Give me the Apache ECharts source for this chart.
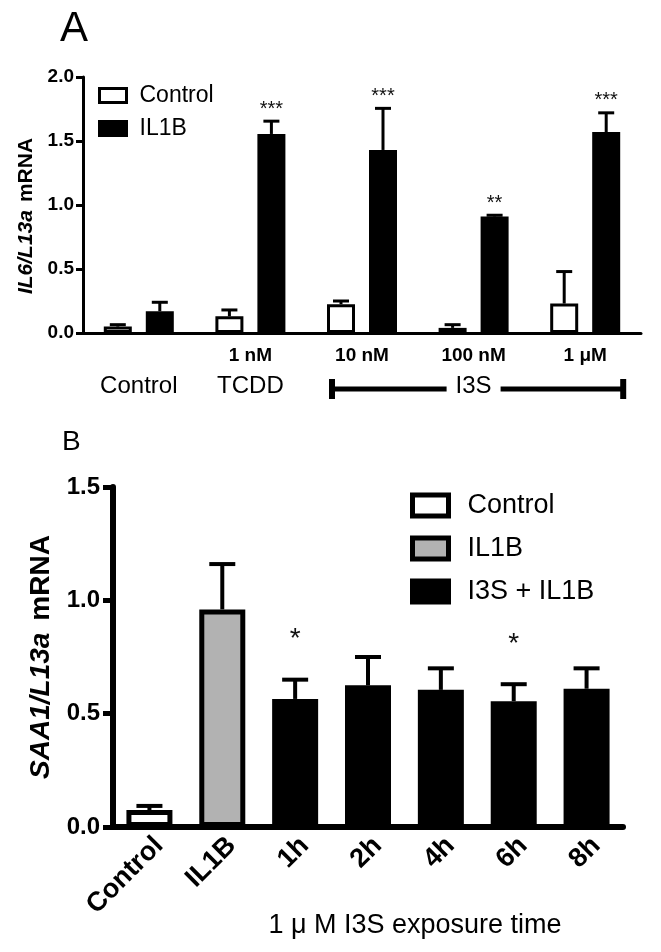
<!DOCTYPE html>
<html><head><meta charset="utf-8">
<script src="https://cdn.jsdelivr.net/npm/echarts@6/dist/echarts.min.js"></script>
<style>
html,body{margin:0;padding:0;background:#fff;}
#a{position:absolute;left:0;top:0;width:661px;height:420px;}
#b{position:absolute;left:0;top:420px;width:661px;height:532px;}
</style>
</head><body><div id="a"></div><div id="b"></div>
<script>
// ---------- Panel A data ----------
const catsA = ['', '1 nM', '10 nM', '100 nM', '1 μM'];
const groupA = ['Control', 'TCDD', '', 'I3S', ''];
const ctrlA = [0.05, 0.13, 0.225, 0.04, 0.23];
const ctrlSemA = [0.015, 0.05, 0.025, 0.025, 0.25];
const il1bA = [0.17, 1.555, 1.43, 0.91, 1.57];
const il1bSemA = [0.07, 0.10, 0.325, 0.01, 0.15];
const sigA = ['', '***', '***', '**', '***'];
// ---------- Panel B data ----------
const catsB = ['Control', 'IL1B', '1h', '2h', '4h', '6h', '8h'];
const ctrlB = [0.075, '-', '-', '-', '-', '-', '-'];
const il1bB = ['-', 0.96, '-', '-', '-', '-', '-'];
const i3sB = ['-', '-', 0.565, 0.625, 0.605, 0.555, 0.61];
const semB = [0.018, 0.2, 0.085, 0.125, 0.095, 0.075, 0.09];
const sigB = ['', '', '*', '', '', '*', ''];

const SANS = 'Liberation Sans';

function errSeries(vals, sems, offset, sig, lw, cw, starFont, starDy) {
  const data = [];
  vals.forEach((v, i) => { if (v !== '-') data.push([i, v, v + sems[i]]); });
  return {
    type: 'custom', silent: true, z: 1, name: 'err',
    data: data,
    renderItem: function (params, api) {
      const i = api.value(0);
      const p0 = api.coord([i, api.value(1)]);
      const p1 = api.coord([i, api.value(2)]);
      const x = p0[0] + offset;
      const children = [
        {type: 'line', shape: {x1: x, y1: p0[1], x2: x, y2: p1[1]}, style: {stroke: '#000', lineWidth: lw}},
        {type: 'line', shape: {x1: x - cw, y1: p1[1], x2: x + cw, y2: p1[1]}, style: {stroke: '#000', lineWidth: lw}}
      ];
      if (sig[i]) {
        children.push({type: 'text', z2: 10, style: {text: sig[i], x: x, y: p1[1] - starDy, align: 'center', verticalAlign: 'middle', font: starFont, fill: '#111'}});
      }
      return {type: 'group', children: children};
    }
  };
}

// ---------- Chart A ----------
const chartA = echarts.init(document.getElementById('a'), null, {renderer: 'canvas'});
const bwA = 28, gapA = 0.5;
const offA = bwA * (1 + gapA) / 2;
chartA.setOption({
  animation: false,
  backgroundColor: '#fff',
  grid: {left: 83, top: 77, width: 558, height: 256, outerBoundsMode: 'none'},
  legend: {
    orient: 'vertical', left: 93, top: 79, itemWidth: 27, itemHeight: 14, itemGap: 10, icon: 'rect',
    itemStyle: {borderWidth: 3, borderColor: '#000'},
    textStyle: {fontFamily: SANS, fontSize: 23, color: '#000', padding: [0, 0, 0, 8]},
    data: ['Control', 'IL1B']
  },
  xAxis: {
    type: 'category', data: catsA,
    axisLine: {lineStyle: {color: '#000', width: 3}},
    axisTick: {alignWithLabel: true, length: 9, lineStyle: {color: '#000', width: 3}},
    axisLabel: {
      interval: 0, margin: 10,
      formatter: function (v, i) { return '{a|' + (v || ' ') + '}\n{b|' + (groupA[i] || ' ') + '}'; },
      rich: {
        a: {fontFamily: SANS, fontWeight: 'bold', fontSize: 19, lineHeight: 26, color: '#000'},
        b: {fontFamily: SANS, fontSize: 24, lineHeight: 34, color: '#000'}
      }
    }
  },
  yAxis: {
    type: 'value', min: 0, max: 2, interval: 0.5,
    axisLine: {show: true, lineStyle: {color: '#000', width: 3}},
    axisTick: {show: true, length: 7, lineStyle: {color: '#000', width: 3}},
    splitLine: {show: false},
    axisLabel: {margin: 9, formatter: v => v.toFixed(1), fontFamily: SANS, fontWeight: 'bold', fontSize: 19, color: '#000'},
    name: '{i|IL6/L13a}{s| }{n|mRNA}', nameLocation: 'middle', nameGap: 37,
    nameTextStyle: {
      padding: [0, 22, 0, 0],
      rich: {
        i: {fontFamily: SANS, fontWeight: 'bold', fontStyle: 'italic', fontSize: 21, color: '#000'},
        s: {fontFamily: SANS, fontSize: 21, width: 8},
        n: {fontFamily: SANS, fontWeight: 'bold', fontSize: 21, color: '#000'}
      }
    }
  },
  series: [
    {name: 'Control', type: 'bar', data: ctrlA, barWidth: bwA, barGap: (gapA * 100) + '%', z: 2,
      itemStyle: {color: '#fff', borderColor: '#000', borderWidth: 3}},
    {name: 'IL1B', type: 'bar', data: il1bA, barWidth: bwA, z: 2,
      itemStyle: {color: '#000', borderColor: '#000', borderWidth: 3}},
    errSeries(ctrlA, ctrlSemA, -offA, ['', '', '', '', ''], 3, 8, '20px ' + SANS, 12),
    errSeries(il1bA, il1bSemA, offA, sigA, 3, 8, '20px ' + SANS, 12)
  ]
});
// panel label + I3S bracket
(function () {
  const xL = chartA.convertToPixel({xAxisIndex: 0}, catsA[2]);
  const xM = chartA.convertToPixel({xAxisIndex: 0}, catsA[3]);
  const xR = chartA.convertToPixel({xAxisIndex: 0}, catsA[4]);
  const yB = 389;
  const L = xL - 30, R = xR + 38;
  const st = {stroke: '#000', lineWidth: 5};
  chartA.setOption({
    graphic: [
      {type: 'text', left: 60, top: 8, style: {text: 'A', font: '42px ' + SANS, fill: '#000'}},
      {type: 'line', shape: {x1: L, y1: yB, x2: xM - 27, y2: yB}, style: st},
      {type: 'line', shape: {x1: xM + 27, y1: yB, x2: R, y2: yB}, style: st},
      {type: 'line', shape: {x1: L, y1: yB - 10, x2: L, y2: yB + 10}, style: {stroke: '#000', lineWidth: 6}},
      {type: 'line', shape: {x1: R, y1: yB - 10, x2: R, y2: yB + 10}, style: {stroke: '#000', lineWidth: 6}}
    ]
  });
})();

// ---------- Chart B ----------
const chartB = echarts.init(document.getElementById('b'), null, {renderer: 'canvas'});
chartB.setOption({
  animation: false,
  backgroundColor: '#fff',
  grid: {left: 113, top: 67, width: 510, height: 340, outerBoundsMode: 'none'},
  legend: {
    orient: 'vertical', left: 405, top: 67, itemWidth: 36, itemHeight: 21, itemGap: 16, icon: 'rect',
    itemStyle: {borderWidth: 5, borderColor: '#000'},
    textStyle: {fontFamily: SANS, fontSize: 27, color: '#000', padding: [0, 0, 0, 14]},
    data: ['Control', 'IL1B', 'I3S + IL1B']
  },
  graphic: [
    {type: 'text', left: 62, top: 8, style: {text: 'B', font: '28px ' + SANS, fill: '#000'}}
  ],
  xAxis: {
    type: 'category', data: catsB,
    axisLine: {lineStyle: {color: '#000', width: 6}},
    axisTick: {show: false},
    axisLabel: {interval: 0, rotate: 45, margin: 5, verticalAlign: 'top', fontFamily: SANS, fontWeight: 'bold', fontSize: 27, color: '#000'},
    name: '1 μ M I3S exposure time', nameLocation: 'middle', nameGap: 85, nameMoveOverlap: false,
    nameTextStyle: {fontFamily: SANS, fontSize: 27, color: '#000', padding: [0, 0, 0, 94]}
  },
  yAxis: {
    type: 'value', min: 0, max: 1.5, interval: 0.5,
    axisLine: {show: true, lineStyle: {color: '#000', width: 6}},
    axisTick: {show: true, length: 10, lineStyle: {color: '#000', width: 5}},
    splitLine: {show: false},
    axisLabel: {margin: 13, formatter: v => v.toFixed(1), fontFamily: SANS, fontWeight: 'bold', fontSize: 24, color: '#000'},
    name: '{i|SAA1/L13a}{s| }{n|mRNA}', nameLocation: 'middle', nameGap: 55,
    nameTextStyle: {
      rich: {
        i: {fontFamily: SANS, fontWeight: 'bold', fontStyle: 'italic', fontSize: 28, color: '#000'},
        s: {fontFamily: SANS, fontSize: 28, width: 12},
        n: {fontFamily: SANS, fontWeight: 'bold', fontSize: 28, color: '#000'}
      }
    }
  },
  series: [
    {name: 'Control', type: 'bar', data: ctrlB, barWidth: 46, barGap: '-100%', z: 2,
      itemStyle: {color: '#fff', borderColor: '#000', borderWidth: 5}},
    {name: 'IL1B', type: 'bar', data: il1bB, barWidth: 46, z: 2,
      itemStyle: {color: '#b2b2b2', borderColor: '#000', borderWidth: 5}},
    {name: 'I3S + IL1B', type: 'bar', data: i3sB, barWidth: 46, z: 2,
      itemStyle: {color: '#000', borderColor: '#000', borderWidth: 5}},
    errSeries(catsB.map((c, i) => [ctrlB, il1bB, i3sB].map(s => s[i]).find(v => v !== '-')), semB, 0, sigB, 4, 13, '28px ' + SANS, 40)
  ]
});
</script>
</body></html>
